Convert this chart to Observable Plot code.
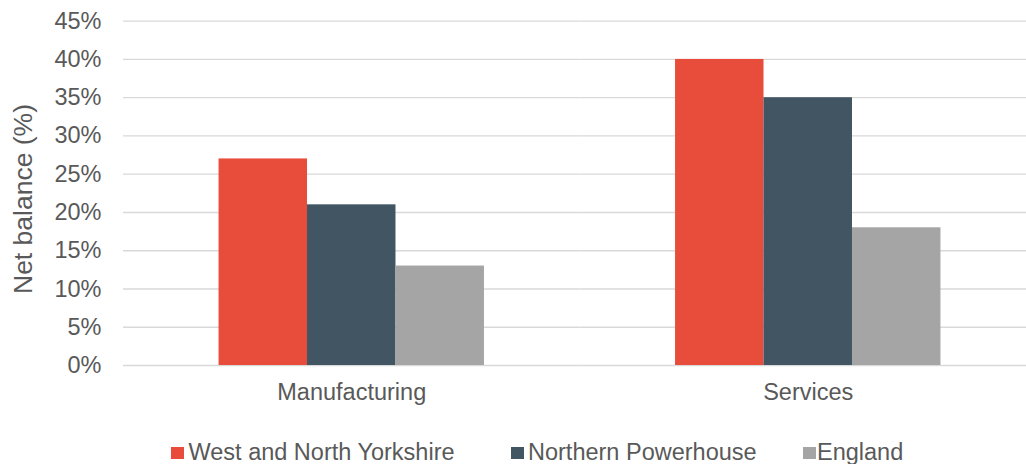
<!DOCTYPE html>
<html>
<head>
<meta charset="utf-8">
<script src="https://cdn.jsdelivr.net/npm/d3@7"></script>
<script src="https://cdn.jsdelivr.net/npm/@observablehq/plot@0.6"></script>
<style>
  html, body { margin: 0; padding: 0; background: #fff; overflow: hidden; }
  #wrap { position: relative; width: 1026px; height: 464px; font-family: "Liberation Sans", Arial, sans-serif; color: #595959; }
  #ylabel { position: absolute; left: 22.5px; top: 199px; transform: translate(-50%, -50%) rotate(-90deg); font-size: 26.5px; line-height: 1; white-space: nowrap; }
  .lg { position: absolute; font-size: 23.5px; line-height: 24px; white-space: nowrap; }
  .sw { position: absolute; width: 12.5px; height: 12px; }
</style>
</head>
<body>
<div id="wrap"></div>
<script>
const categories = ["Manufacturing", "Services"];
const series = ["West and North Yorkshire", "Northern Powerhouse", "England"];
const westNorthYorkshire = [27, 40];
const northernPowerhouse = [21, 35];
const england = [13, 18];
const yTicks = [0, 5, 10, 15, 20, 25, 30, 35, 40, 45];
const colors = ["#E84C3B", "#415563", "#A5A5A5"];
const yLabel = "Net balance (%)";

const seriesValues = [westNorthYorkshire, northernPowerhouse, england];
const data = [];
categories.forEach((c, i) => {
  series.forEach((s, j) => data.push({category: c, series: s, value: seriesValues[j][i]}));
});

const chart = Plot.plot({
  width: 1026,
  height: 420,
  marginLeft: 123,
  marginRight: -10,
  marginTop: 20.7,
  marginBottom: 55,
  style: {fontFamily: "'Liberation Sans', Arial, sans-serif", fontSize: "23.5px", color: "#595959", background: "#fff", overflow: "visible"},
  fx: {domain: categories, padding: 0, round: false, label: null, axis: "bottom", tickSize: 0, tickPadding: 18},
  x: {domain: series, axis: null, round: false, paddingInner: 0, paddingOuter: 1.08},
  y: {domain: [0, 45], ticks: yTicks, tickFormat: d => d + "%", label: null, tickSize: 0, tickPadding: 22},
  color: {domain: series, range: colors},
  marks: [
    Plot.ruleY(yTicks, {stroke: "#D9D9D9", strokeWidth: 1.3}),
    Plot.barY(data, {fx: "category", x: "series", y: "value", fill: "series"})
  ]
});
const wrap = document.getElementById("wrap");
wrap.appendChild(chart);

const yl = document.createElement("div");
yl.id = "ylabel";
yl.textContent = yLabel;
wrap.appendChild(yl);

const swatchX = [171, 511, 803];
const textX = [188.5, 528, 817];
series.forEach((s, i) => {
  const sw = document.createElement("div");
  sw.className = "sw";
  sw.style.left = swatchX[i] + "px";
  sw.style.top = "447.3px";
  sw.style.background = colors[i];
  wrap.appendChild(sw);
  const t = document.createElement("div");
  t.className = "lg";
  t.style.left = textX[i] + "px";
  t.style.top = "439.8px";
  t.textContent = s;
  wrap.appendChild(t);
});
</script>
</body>
</html>
